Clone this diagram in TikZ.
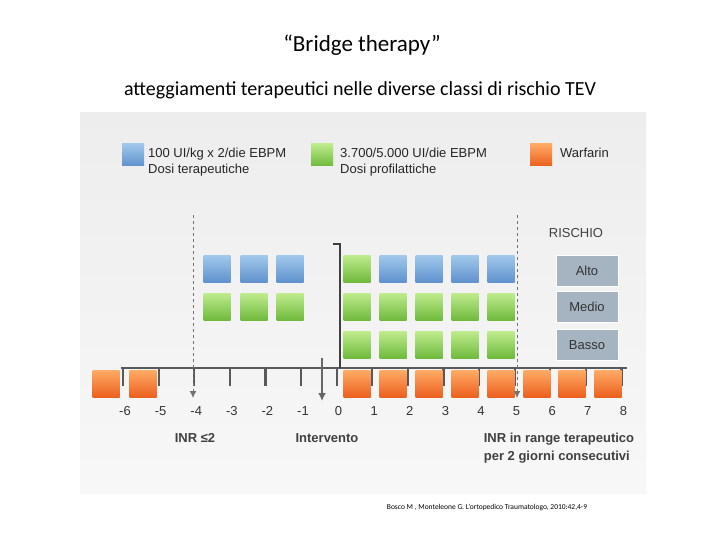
\documentclass[tikz,border=0pt]{standalone}
\usepackage{fontspec}
\usetikzlibrary{arrows.meta}
\setmainfont{Carlito}
\newfontfamily\figf{Liberation Sans}
\definecolor{bl1}{RGB}{160,200,235}\definecolor{bl2}{RGB}{95,145,205}
\definecolor{gr1}{RGB}{190,235,140}\definecolor{gr2}{RGB}{110,185,60}
\definecolor{or1}{RGB}{255,170,100}\definecolor{or2}{RGB}{235,95,30}
\definecolor{rk}{RGB}{165,180,192}
\begin{document}
\begin{tikzpicture}[x=1pt,y=-1pt,
 sq/.style={minimum size=27pt,inner sep=0pt,draw=none},
 bsq/.style={sq,top color=bl1,bottom color=bl2},
 gsq/.style={sq,top color=gr1,bottom color=gr2},
 osq/.style={sq,top color=or1,bottom color=or2},
 rbox/.style={fill=rk,draw=white,line width=1pt,minimum width=62pt,minimum height=31pt,inner sep=0pt,font=\figf\fontsize{13}{13}\selectfont,text=black!80},
 lab/.style={font=\figf\fontsize{13}{16}\selectfont,text=black!85,align=left,anchor=west,inner sep=0pt},
 blab/.style={font=\figf\bfseries\fontsize{13}{18}\selectfont,text=black!75,inner sep=0pt},
 tk/.style={font=\figf\fontsize{13}{13}\selectfont,text=black!80,inner sep=0pt}]
\useasboundingbox (0,0) rectangle (720,540);
\fill[white] (0,0) rectangle (720,540);
\node[font=\fontsize{23}{25}\selectfont] (title) at (362,45) {“Bridge therapy”};
\node[font=\fontsize{20}{22}\selectfont] (sub) at (360,90) {atteggiamenti terapeutici nelle diverse classi di rischio TEV};
\shade[top color=gray!14,bottom color=gray!6] (80,113) rectangle (646,493);
\node[font=\fontsize{7.5}{8}\selectfont] (cit) at (487,507) {Bosco M , Monteleone G. L’ortopedico Traumatologo, 2010:42,4-9};
% legend
\node[bsq,minimum size=22pt] (lb) at (133,155) {};
\node[lab] (lbt) at (148,162) {100 UI/kg x 2/die EBPM\\Dosi terapeutiche};
\node[gsq,minimum size=22pt] (lg) at (322,155) {};
\node[lab] (lgt) at (340,162) {3.700/5.000 UI/die EBPM\\Dosi profilattiche};
\node[osq,minimum size=22pt] (lo) at (541,155) {};
\node[lab] (lot) at (560,153) {Warfarin};
% risk
\node[font=\figf\fontsize{13}{13}\selectfont,text=black!75] (ris) at (576,233) {RISCHIO};
\node[rbox] (alto) at (587,271) {Alto};
\node[rbox] (medio) at (587,307) {Medio};
\node[rbox] (basso) at (587,345) {Basso};
% squares
\foreach \x/\n in {217/a,254/b,290/c}{\node[bsq] (t\n) at (\x,269) {}; \node[gsq] (m\n) at (\x,307) {};}
\node[gsq] (r1) at (357,269) {};
\foreach \x/\n in {393/b,429/c,465/d,501/e}{\node[bsq] (r\n) at (\x,269) {};}
\foreach \x/\n in {357/a,393/b,429/c,465/d,501/e}{\node[gsq] (rm\n) at (\x,307) {}; \node[gsq] (rl\n) at (\x,345) {};}
% axis
\coordinate (axL) at (121,368); \coordinate (axR) at (627,368);
\draw[black!65,line width=2.2pt] (axL) -- (axR);
\foreach \i [count=\k from -6] in {0,...,14}{
 \draw[black!65,line width=2.2pt] ({123+35.6*\i},367) -- ({123+35.6*\i},386);
 \node[tk] (n\k) at ({125+35.6*\i},411) {\k};}
\foreach \x/\n in {106/a,143/b,357/c,393/d,429/e,465/f,501/g,537/h,572/i,608/j}{\node[osq] (o\n) at (\x,384) {};}
% vertical lines
\coordinate (d1t) at (193,215); \coordinate (d1b) at (193,398);
\coordinate (d2t) at (517,215); \coordinate (d2b) at (517,398);
\draw[black!55,dashed,line width=1pt,-{Latex[length=7pt,width=7pt]}] (d1t) -- (d1b);
\draw[black!55,dashed,line width=1pt,-{Latex[length=7pt,width=7pt]}] (d2t) -- (d2b);
\coordinate (st) at (340,244); \coordinate (sl) at (333,244); \coordinate (sb) at (340,368);
\draw[black!75,line width=1.2pt] (sl) -- (st) -- (sb);
\coordinate (it) at (322,358); \coordinate (ib) at (322,401);
\draw[black!60,line width=2pt,-{Latex[length=8pt,width=8pt]}] (it) -- (ib);
% labels
\node[blab] (inr) at (195,438) {INR ≤2};
\node[blab] (int) at (327,438) {Intervento};
\node[blab,align=left] (rng) at (559,448) {INR in range terapeutico\\per 2 giorni consecutivi};
\end{tikzpicture}
\end{document}
